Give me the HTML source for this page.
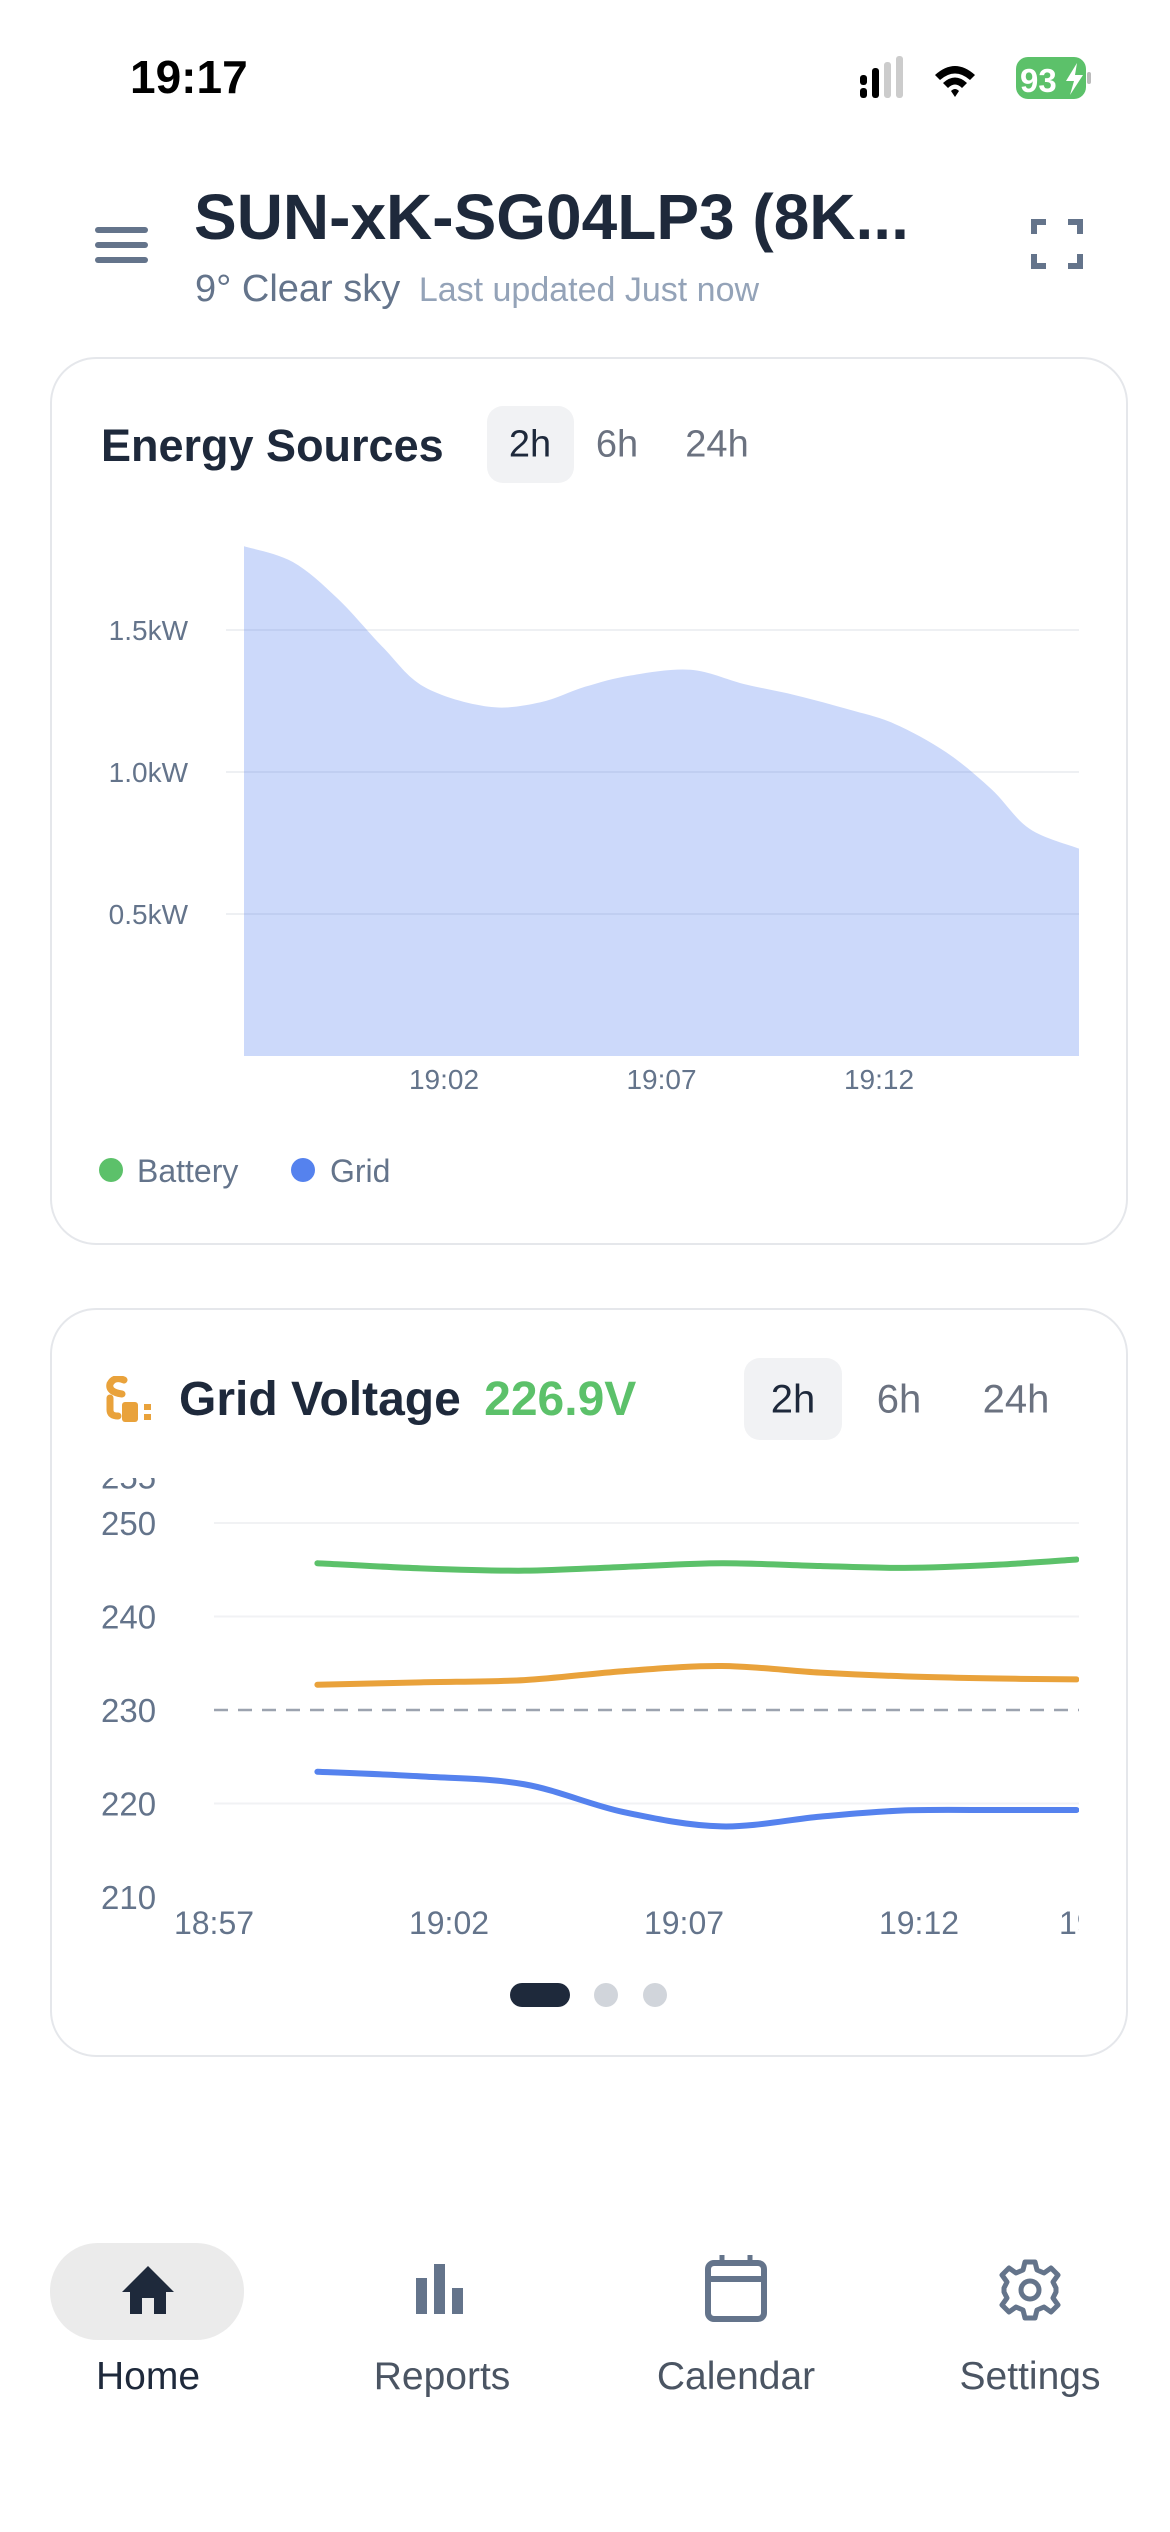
<!DOCTYPE html>
<html><head><meta charset="utf-8">
<style>
*{box-sizing:border-box;margin:0;padding:0}
body{width:1170px;height:2532px;background:#fff;position:relative;overflow:hidden;font-family:"Liberation Sans",sans-serif;color:#1f2937}
.abs{position:absolute}
.card{position:absolute;left:50px;width:1078px;border:2px solid #e5e7eb;border-radius:46px;background:#fff;overflow:hidden}
.pill{position:absolute;background:#f1f2f4;border-radius:16px}
.tab{position:absolute;font-size:38px;color:#6b7280;transform:translate(-50%,-50%)}
.navl{position:absolute;font-size:39px;color:#4b5563;transform:translateX(-50%);top:2355px}
</style></head>
<body>
<div class="abs" style="left:130px;top:50px;font-size:46px;font-weight:bold;color:#000">19:17</div>
<svg class="abs" style="left:855px;top:55px" width="250" height="50">
 <rect x="5" y="20" width="7" height="10" rx="3" fill="#000"/><rect x="5" y="33" width="7" height="10" rx="3" fill="#000"/>
 <rect x="17" y="13" width="7" height="30" rx="3" fill="#000"/><rect x="29" y="7" width="7" height="36" rx="3" fill="#ccc"/><rect x="41" y="1" width="7" height="42" rx="3" fill="#ccc"/>
 <path d="M80 20 Q100 2 120 20 L115 25 Q100 12 85 25Z M88 28 Q100 17 112 28 L107 33 Q100 26 93 33Z M96 36 Q100 32 104 36 L100 42Z" fill="#000"/>
 <rect x="161" y="2" width="70" height="42" rx="12" fill="#5cc16a"/><rect x="232" y="17" width="4" height="12" rx="2" fill="#bbb"/>
 <text x="165" y="37" font-size="33" font-weight="bold" fill="#fff" font-family="Liberation Sans">93</text>
 <path d="M222 8 L211 26 L219 26 L215 40 L228 20 L220 20Z" fill="#fff"/>
</svg>
<svg class="abs" style="left:93px;top:225px" width="58" height="40">
 <rect x="2" y="2" width="53" height="6" rx="3" fill="#64748b"/><rect x="2" y="17" width="53" height="6" rx="3" fill="#64748b"/><rect x="2" y="32" width="53" height="6" rx="3" fill="#64748b"/>
</svg>
<div class="abs" style="left:194px;top:180px;font-size:64px;font-weight:bold;color:#1e293b;white-space:nowrap">SUN-xK-SG04LP3 (8K...</div>
<div class="abs" style="left:195px;top:268px;font-size:38px;color:#64748b;white-space:nowrap">9° Clear sky <span style="font-size:34px;color:#94a3b8;margin-left:8px">Last updated Just now</span></div>
<svg class="abs" style="left:1030px;top:218px" width="55" height="52">
 <path d="M4 16 V4 H16 M38 4 H50 V16 M50 36 V48 H38 M16 48 H4 V36" stroke="#64748b" stroke-width="6" fill="none"/>
</svg>

<div class="card" style="top:357px;height:888px"></div>
<div class="abs" style="left:101px;top:420px;font-size:45px;font-weight:600;color:#1e293b">Energy Sources</div>
<div class="pill" style="left:487px;top:406px;width:87px;height:77px"></div>
<div class="tab" style="left:530px;top:445px;color:#1e293b">2h</div>
<div class="tab" style="left:617px;top:445px">6h</div>
<div class="tab" style="left:717px;top:445px">24h</div>
<svg class="abs" id="chart1" style="left:0;top:0" width="1170" height="1250"></svg>
<svg class="abs" style="left:95px;top:1150px" width="400" height="42">
 <circle cx="16" cy="20" r="12" fill="#5cc16a"/>
 <text x="42" y="32" font-size="32" fill="#64748b" font-family="Liberation Sans">Battery</text>
 <circle cx="208" cy="20" r="12" fill="#5582ee"/>
 <text x="235" y="32" font-size="32" fill="#64748b" font-family="Liberation Sans">Grid</text>
</svg>

<div class="card" style="top:1308px;height:749px"></div>
<svg class="abs" style="left:104px;top:1376px" width="54" height="50">
 <path d="M18 18 Q4 16 6 8 Q10 0 20 4 M6 22 V34 Q6 40 14 40" stroke="#e9a23b" stroke-width="7" fill="none" stroke-linecap="round"/>
 <rect x="18" y="26" width="16" height="20" rx="3" fill="#e9a23b"/><rect x="40" y="28" width="7" height="6" fill="#e9a23b"/><rect x="40" y="38" width="7" height="6" fill="#e9a23b"/>
</svg>
<div class="abs" style="left:179px;top:1372px;font-size:48px;font-weight:600;color:#1e293b;white-space:nowrap">Grid Voltage <span style="color:#5cc16a;margin-left:10px">226.9V</span></div>
<div class="pill" style="left:744px;top:1358px;width:98px;height:82px"></div>
<div class="tab" style="left:793px;top:1400px;color:#1e293b;font-size:40px">2h</div>
<div class="tab" style="left:899px;top:1400px;font-size:40px">6h</div>
<div class="tab" style="left:1016px;top:1400px;font-size:40px">24h</div>
<svg class="abs" id="chart2" style="left:52px;top:1478px" width="1027" height="472"></svg>
<svg class="abs" style="left:505px;top:1980px" width="170" height="30">
 <rect x="5" y="3" width="60" height="24" rx="12" fill="#1e293b"/>
 <circle cx="101" cy="15" r="12" fill="#d1d5db"/>
 <circle cx="150" cy="15" r="12" fill="#d1d5db"/>
</svg>

<div class="abs" style="left:50px;top:2243px;width:194px;height:97px;border-radius:48px;background:#ebebeb"></div>
<svg class="abs" style="left:118px;top:2262px" width="60" height="56"><path d="M30 4 L56 30 H48 V52 H36 V36 H24 V52 H12 V30 H4Z" fill="#1e293b"/></svg>
<svg class="abs" style="left:414px;top:2260px" width="56" height="56"><rect x="2" y="18" width="11" height="36" fill="#64748b"/><rect x="20" y="4" width="11" height="50" fill="#64748b"/><rect x="38" y="28" width="11" height="26" fill="#64748b"/></svg>
<svg class="abs" style="left:704px;top:2253px" width="64" height="70"><rect x="4" y="10" width="56" height="56" rx="6" stroke="#64748b" stroke-width="6" fill="none"/><line x1="4" y1="26" x2="60" y2="26" stroke="#64748b" stroke-width="6"/><line x1="18" y1="2" x2="18" y2="12" stroke="#64748b" stroke-width="5"/><line x1="46" y1="2" x2="46" y2="12" stroke="#64748b" stroke-width="5"/></svg>
<svg class="abs" style="left:998px;top:2258px" width="64" height="64"><g transform="translate(32,32)"><path d="M-5 -28 H5 L7 -20 L14 -17 L21 -22 L28 -15 L23 -8 L26 -2 V2 L23 8 L28 15 L21 22 L14 17 L7 20 L5 28 H-5 L-7 20 L-14 17 L-21 22 L-28 15 L-23 8 L-26 2 V-2 L-23 -8 L-28 -15 L-21 -22 L-14 -17 L-7 -20Z" fill="none" stroke="#64748b" stroke-width="5" stroke-linejoin="round"/><circle r="9" fill="none" stroke="#64748b" stroke-width="5"/></g></svg>
<div class="navl" style="left:148px;color:#1e293b">Home</div>
<div class="navl" style="left:442px">Reports</div>
<div class="navl" style="left:736px">Calendar</div>
<div class="navl" style="left:1030px">Settings</div>

<script>
// Energy Sources data (minutes after 18:57)
const energyMinutes = [0.35,1.52,2.56,3.59,4.54,6.01,7.21,8.24,9.29,10.67,11.89,13.09,14.31,15.35,16.54,17.58,18.46,19.56];
const gridPower = [1.795,1.74,1.61,1.44,1.30,1.23,1.245,1.30,1.34,1.36,1.31,1.27,1.22,1.17,1.07,0.94,0.80,0.73];
const energyYTicks = [0.5,1.0,1.5];
const energyYLabels = ['0.5kW','1.0kW','1.5kW'];
const energyXTicks = [5,10,15];
const energyXLabels = ['19:02','19:07','19:12'];

// Grid Voltage data (minutes after 18:57)
const voltMinutes = [2.2,4.4,6.6,8.7,10.8,12.9,14.7,16.7,18.35];
const voltL1 = [245.7,245.15,244.9,245.3,245.7,245.4,245.2,245.55,246.1];
const voltL2 = [232.7,232.96,233.2,234.15,234.7,234.0,233.6,233.37,233.27];
const voltL3 = [223.4,222.9,222.06,219.1,217.55,218.6,219.26,219.3,219.3];
const voltYTicks = [210,220,230,240,250,255];
const voltXTicks = [0,5,10,15,20];
const voltXLabels = ['18:57','19:02','19:07','19:12','19:17'];
const nominalVoltage = 230;

const NS='http://www.w3.org/2000/svg';
function mk(parent,tag,attrs){const e=document.createElementNS(NS,tag);for(const k in attrs)e.setAttribute(k,attrs[k]);parent.appendChild(e);return e;}
function smooth(pts){let d='M'+pts[0][0]+' '+pts[0][1];for(let i=0;i<pts.length-1;i++){const p0=pts[i-1]||pts[i],p1=pts[i],p2=pts[i+1],p3=pts[i+2]||p2;
 const c1=[p1[0]+(p2[0]-p0[0])/6,p1[1]+(p2[1]-p0[1])/6],c2=[p2[0]-(p3[0]-p1[0])/6,p2[1]-(p3[1]-p1[1])/6];
 d+=' C'+c1[0]+' '+c1[1]+' '+c2[0]+' '+c2[1]+' '+p2[0]+' '+p2[1];}return d;}

(function(){
 const svg=document.getElementById('chart1');
 const L=244,R=1079,B=1056,pxPerKw=284;
 const x=m=>444+(m-5)*43.5, y=v=>B-v*pxPerKw;
 energyYTicks.forEach((t,i)=>{
  const g=mk(svg,'line',{x1:226,x2:R,y1:y(t),y2:y(t),stroke:'#eef0f3','stroke-width':2});
  
  
  const tx=mk(svg,'text',{x:188,y:y(t)+10,'text-anchor':'end','font-size':28,fill:'#64748b','font-family':'Liberation Sans'});
  tx.textContent=energyYLabels[i];
  
  
 });
 const pts=energyMinutes.map((m,i)=>[x(m),y(gridPower[i])]);
 pts[0][0]=L;pts[pts.length-1][0]=R;
 const d=smooth(pts)+' L'+R+' '+B+' L'+L+' '+B+' Z';
 const a=mk(svg,'path',{d:d,fill:'#5582ee','fill-opacity':0.3});
 
 
 energyXTicks.forEach((t,i)=>{
  const tx=mk(svg,'text',{x:x(t),y:1089,'text-anchor':'middle','font-size':28,fill:'#64748b','font-family':'Liberation Sans'});
  tx.textContent=energyXLabels[i];
  
  
 });
})();

(function(){
 const svg=document.getElementById('chart2');
 const OX=52,OY=1478,R=1079-OX;
 const x=m=>214-OX+m*47, y=v=>1710-OY-(v-230)*9.35;
 voltYTicks.forEach(t=>{
  if(t!==nominalVoltage && t!==210 && t!==255){
   const g=mk(svg,'line',{x1:214-OX,x2:R,y1:y(t),y2:y(t),stroke:'#f1f2f4','stroke-width':2});
   
   
  }
  const tx=mk(svg,'text',{x:101-OX,y:y(t)+12,'font-size':33,fill:'#64748b','font-family':'Liberation Sans'});
  tx.textContent=t;
  
  
 });
 const dl=mk(svg,'line',{x1:214-OX,x2:R,y1:y(nominalVoltage),y2:y(nominalVoltage),stroke:'#9ca3af','stroke-width':2.5,'stroke-dasharray':'14 10'});
 
 
 [[voltL1,'#5cc16a','phase-l1-line'],[voltL2,'#e9a23b','phase-l2-line'],[voltL3,'#5582ee','phase-l3-line']].forEach(s=>{
  const pts=voltMinutes.map((m,i)=>[Math.min(x(m),R),y(s[0][i])]);
  const p=mk(svg,'path',{d:smooth(pts),fill:'none',stroke:s[1],'stroke-width':6,'stroke-linecap':'round'});
  
  
 });
 voltXTicks.forEach((t,i)=>{
  const tx=mk(svg,'text',{x:Math.min(x(t),R+20),y:1934-OY,'text-anchor':'middle','font-size':32,fill:'#64748b','font-family':'Liberation Sans'});
  tx.textContent=voltXLabels[i];
  
  
 });
})();
</script>
</body></html>
